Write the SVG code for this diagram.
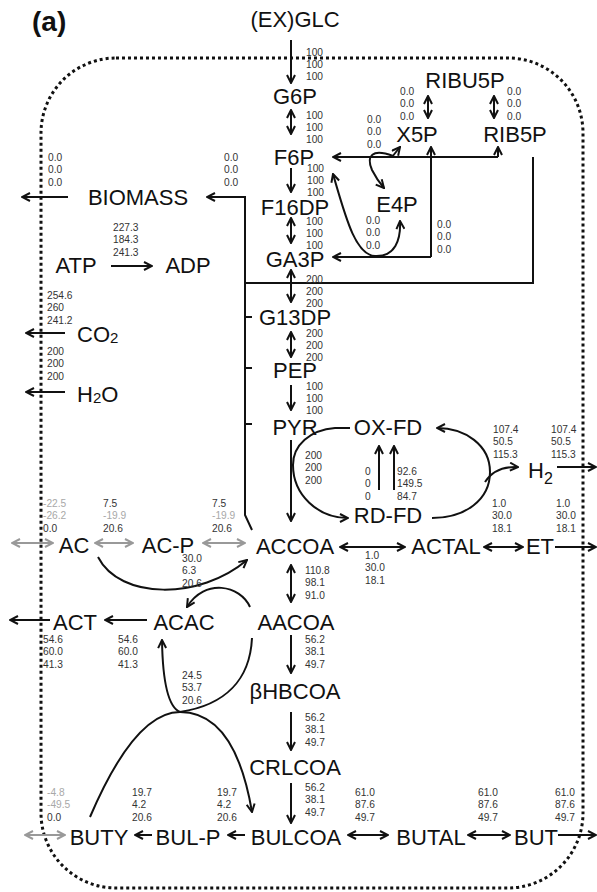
<svg xmlns="http://www.w3.org/2000/svg" width="597" height="892" viewBox="0 0 597 892">
<style>
.n{font-family:"Liberation Sans",Arial,sans-serif;font-size:22px;fill:#111;text-anchor:middle}
.v{font-family:"Liberation Sans",Arial,sans-serif;font-size:10.2px;fill:#333}
.g{fill:#a8a8a8}
.c{stroke:#111;stroke-width:2;fill:none}
.cg{stroke:#999;stroke-width:2;fill:none}
.a{marker-end:url(#ah)}
.d{marker-start:url(#ah);marker-end:url(#ah)}
.ga{marker-start:url(#ahg);marker-end:url(#ahg)}
</style>
<defs>
<marker id="ah" viewBox="0 0 10 10" refX="9" refY="5" markerWidth="10" markerHeight="10" markerUnits="userSpaceOnUse" orient="auto-start-reverse"><path d="M1,1 L9,5 L1,9" fill="none" stroke="#111" stroke-width="2"/></marker>
<marker id="ahg" viewBox="0 0 10 10" refX="9" refY="5" markerWidth="10" markerHeight="10" markerUnits="userSpaceOnUse" orient="auto-start-reverse"><path d="M1,1 L9,5 L1,9" fill="none" stroke="#999" stroke-width="2"/></marker>
</defs>
<rect width="597" height="892" fill="#fff"/>
<text x="32" y="31" font-family="Liberation Sans,Arial,sans-serif" font-size="28" font-weight="bold" fill="#111">(a)</text>
<rect x="41" y="58" width="542" height="830" rx="75" ry="75" fill="none" stroke="#111" stroke-width="3" stroke-dasharray="3 3"/>

<g id="connectors">
<path class="c a" d="M291,40 L291,83"/>
<path class="c d" d="M291,110 L291,134"/>
<path class="c a" d="M291,168 L291,192"/>
<path class="c d" d="M291,218 L291,243"/>
<path class="c d" d="M291,270 L291,302"/>
<path class="c d" d="M291,332 L291,357"/>
<path class="c a" d="M291,385 L291,410"/>
<path class="c a" d="M291,440 L291,521"/>
<path class="c d" d="M291,565 L291,602"/>
<path class="c a" d="M291,635 L291,673"/>
<path class="c a" d="M291,712 L291,750"/>
<path class="c a" d="M291,783 L291,823"/>
<path class="c a" d="M252,530 L245,515 L245,197 L207,197"/>
<path class="c" d="M533,157 L533,283 L245,283"/>
<path class="c" d="M245,317 L252,317 M245,368 L252,368 M245,424 L252,424"/>
<path class="c a" d="M68,197 L22,197"/>
<path class="c a" d="M111,266 L152,266"/>
<path class="c a" d="M65,333 L26,333"/>
<path class="c a" d="M65,392 L26,392"/>
<path class="c d" d="M428,96 L428,118"/>
<path class="c d" d="M494,96 L494,118"/>
<path class="c a" d="M498,157 L333,157"/>
<path class="c a" d="M498,157 L498,147"/>
<path class="c a" d="M392,157 L400,147"/>
<path class="c a" d="M393,156 C372,148 366,156 372,170 Q377,180 384,188"/>
<path class="c a" d="M431,257 L431,147"/>
<path class="c a" d="M431,257 L333,257"/>
<path class="c d" d="M333,174 C345,215 355,255 375,256 C395,257 401,240 400,221"/>
<path class="c a" d="M350,428 L335,428 C310,430 293,445 293,465 C293,495 318,518 348,518"/>
<path class="c a" d="M432,518 C465,518 490,500 490,472 C490,445 465,428 437,428"/>
<path class="c a" d="M485,482 Q495,466 518,467"/>
<path class="c a" d="M557,467 L596,467"/>
<path class="c a" d="M379,490 L379,446"/>
<path class="c a" d="M394,490 L394,446"/>
<path class="cg ga" d="M12,543 L53,543"/>
<path class="cg ga" d="M95,543 L133,543"/>
<path class="cg ga" d="M203,543 L245,543"/>
<path class="c d" d="M340,547 L405,547"/>
<path class="c d" d="M484,547 L523,547"/>
<path class="c a" d="M555,547 L596,547"/>
<path class="c a" d="M98,557 C120,600 200,600 247,560"/>
<path class="c a" d="M250,607 C240,585 205,578 187,607"/>
<path class="c a" d="M147,620 L105,620"/>
<path class="c a" d="M50,620 L10,620"/>
<path class="c a" d="M252,638 C250,680 225,705 180,712 Q163,705 162,640"/>
<path class="c a" d="M90,817 Q135,712 180,712 Q235,712 252,812"/>
<path class="c a" d="M245,835 L228,835"/>
<path class="c a" d="M152,835 L135,835"/>
<path class="cg ga" d="M25,835 L65,835"/>
<path class="c d" d="M348,835 L388,835"/>
<path class="c d" d="M468,835 L510,835"/>
<path class="c a" d="M558,835 L596,835"/>
</g>

<g id="flux-labels" class="v">
<text x="306" y="56"><tspan x="306">100</tspan><tspan x="306" dy="12.2">100</tspan><tspan x="306" dy="12.2">100</tspan></text>
<text x="306" y="119"><tspan x="306">100</tspan><tspan x="306" dy="12.2">100</tspan><tspan x="306" dy="12.2">100</tspan></text>
<text x="307" y="172"><tspan x="307">100</tspan><tspan x="307" dy="12.2">100</tspan><tspan x="307" dy="12.2">100</tspan></text>
<text x="306" y="225"><tspan x="306">100</tspan><tspan x="306" dy="12.2">100</tspan><tspan x="306" dy="12.2">100</tspan></text>
<text x="306" y="283"><tspan x="306">200</tspan><tspan x="306" dy="12">200</tspan><tspan x="306" dy="12">200</tspan></text>
<text x="306" y="337"><tspan x="306">200</tspan><tspan x="306" dy="12.2">200</tspan><tspan x="306" dy="12.2">200</tspan></text>
<text x="306" y="390"><tspan x="306">100</tspan><tspan x="306" dy="12.2">100</tspan><tspan x="306" dy="12.2">100</tspan></text>
<text x="305" y="459"><tspan x="305">200</tspan><tspan x="305" dy="12.3">200</tspan><tspan x="305" dy="12.3">200</tspan></text>
<text x="305" y="574"><tspan x="305">110.8</tspan><tspan x="305" dy="12.3">98.1</tspan><tspan x="305" dy="12.3">91.0</tspan></text>
<text x="305" y="643"><tspan x="305">56.2</tspan><tspan x="305" dy="12.3">38.1</tspan><tspan x="305" dy="12.3">49.7</tspan></text>
<text x="305" y="721"><tspan x="305">56.2</tspan><tspan x="305" dy="12.3">38.1</tspan><tspan x="305" dy="12.3">49.7</tspan></text>
<text x="305" y="791"><tspan x="305">56.2</tspan><tspan x="305" dy="12.3">38.1</tspan><tspan x="305" dy="12.3">49.7</tspan></text>
<text x="48" y="161"><tspan x="48">0.0</tspan><tspan x="48" dy="12.3">0.0</tspan><tspan x="48" dy="12.3">0.0</tspan></text>
<text x="224" y="161"><tspan x="224">0.0</tspan><tspan x="224" dy="12.3">0.0</tspan><tspan x="224" dy="12.3">0.0</tspan></text>
<text x="113" y="231"><tspan x="113">227.3</tspan><tspan x="113" dy="12.3">184.3</tspan><tspan x="113" dy="12.3">241.3</tspan></text>
<text x="47" y="299"><tspan x="47">254.6</tspan><tspan x="47" dy="12.3">260</tspan><tspan x="47" dy="12.3">241.2</tspan></text>
<text x="47" y="355"><tspan x="47">200</tspan><tspan x="47" dy="12.3">200</tspan><tspan x="47" dy="12.3">200</tspan></text>
<text x="400" y="95"><tspan x="400">0.0</tspan><tspan x="400" dy="12.3">0.0</tspan><tspan x="400" dy="12.3">0.0</tspan></text>
<text x="507" y="95"><tspan x="507">0.0</tspan><tspan x="507" dy="12.3">0.0</tspan><tspan x="507" dy="12.3">0.0</tspan></text>
<text x="367" y="123"><tspan x="367">0.0</tspan><tspan x="367" dy="12.3">0.0</tspan><tspan x="367" dy="12.3">0.0</tspan></text>
<text x="366" y="224"><tspan x="366">0.0</tspan><tspan x="366" dy="12.3">0.0</tspan><tspan x="366" dy="12.3">0.0</tspan></text>
<text x="437" y="228"><tspan x="437">0.0</tspan><tspan x="437" dy="12.3">0.0</tspan><tspan x="437" dy="12.3">0.0</tspan></text>
<text x="493" y="433"><tspan x="493">107.4</tspan><tspan x="493" dy="12.3">50.5</tspan><tspan x="493" dy="12.3">115.3</tspan></text>
<text x="551" y="433"><tspan x="551">107.4</tspan><tspan x="551" dy="12.3">50.5</tspan><tspan x="551" dy="12.3">115.3</tspan></text>
<text x="365" y="475"><tspan x="365">0</tspan><tspan x="365" dy="12.3">0</tspan><tspan x="365" dy="12.3">0</tspan></text>
<text x="397" y="475"><tspan x="397">92.6</tspan><tspan x="397" dy="12.3">149.5</tspan><tspan x="397" dy="12.3">84.7</tspan></text>
<text x="492" y="507"><tspan x="492">1.0</tspan><tspan x="492" dy="12.3">30.0</tspan><tspan x="492" dy="12.3">18.1</tspan></text>
<text x="556" y="507"><tspan x="556">1.0</tspan><tspan x="556" dy="12.3">30.0</tspan><tspan x="556" dy="12.3">18.1</tspan></text>
<text x="365" y="559"><tspan x="365">1.0</tspan><tspan x="365" dy="12.3">30.0</tspan><tspan x="365" dy="12.3">18.1</tspan></text>
<text x="43" y="507"><tspan x="43" class="g">-22.5</tspan><tspan x="43" dy="12.3" class="g">-26.2</tspan><tspan x="43" dy="12.3">0.0</tspan></text>
<text x="103" y="507"><tspan x="103">7.5</tspan><tspan x="103" dy="12.3" class="g">-19.9</tspan><tspan x="103" dy="12.3">20.6</tspan></text>
<text x="212" y="507"><tspan x="212">7.5</tspan><tspan x="212" dy="12.3" class="g">-19.9</tspan><tspan x="212" dy="12.3">20.6</tspan></text>
<text x="182" y="562"><tspan x="182">30.0</tspan><tspan x="182" dy="12.3">6.3</tspan><tspan x="182" dy="12.3">20.6</tspan></text>
<text x="43" y="643"><tspan x="43">54.6</tspan><tspan x="43" dy="12.3">60.0</tspan><tspan x="43" dy="12.3">41.3</tspan></text>
<text x="118" y="643"><tspan x="118">54.6</tspan><tspan x="118" dy="12.3">60.0</tspan><tspan x="118" dy="12.3">41.3</tspan></text>
<text x="182" y="679"><tspan x="182">24.5</tspan><tspan x="182" dy="12.3">53.7</tspan><tspan x="182" dy="12.3">20.6</tspan></text>
<text x="47" y="796"><tspan x="47" class="g">-4.8</tspan><tspan x="47" dy="12.3" class="g">-49.5</tspan><tspan x="47" dy="12.3">0.0</tspan></text>
<text x="132" y="796"><tspan x="132">19.7</tspan><tspan x="132" dy="12.3">4.2</tspan><tspan x="132" dy="12.3">20.6</tspan></text>
<text x="217" y="796"><tspan x="217">19.7</tspan><tspan x="217" dy="12.3">4.2</tspan><tspan x="217" dy="12.3">20.6</tspan></text>
<text x="355" y="796"><tspan x="355">61.0</tspan><tspan x="355" dy="12.3">87.6</tspan><tspan x="355" dy="12.3">49.7</tspan></text>
<text x="478" y="796"><tspan x="478">61.0</tspan><tspan x="478" dy="12.3">87.6</tspan><tspan x="478" dy="12.3">49.7</tspan></text>
<text x="555" y="796"><tspan x="555">61.0</tspan><tspan x="555" dy="12.3">87.6</tspan><tspan x="555" dy="12.3">49.7</tspan></text>
</g>

<g id="GLC"><text class="n" x="295" y="27" font-size="19.5">(EX)GLC</text></g>
<g id="G6P"><text class="n" x="295" y="104">G6P</text></g>
<g id="F6P"><text class="n" x="294" y="165">F6P</text></g>
<g id="F16DP"><text class="n" x="295" y="215">F16DP</text></g>
<g id="GA3P"><text class="n" x="295" y="267">GA3P</text></g>
<g id="G13DP"><text class="n" x="295" y="325">G13DP</text></g>
<g id="PEP"><text class="n" x="295" y="378">PEP</text></g>
<g id="PYR"><text class="n" x="295" y="435">PYR</text></g>
<g id="OX-FD"><text class="n" x="388" y="435">OX-FD</text></g>
<g id="RD-FD"><text class="n" x="388" y="523">RD-FD</text></g>
<g id="H2"><text class="n" x="528" y="478" style="text-anchor:start">H<tspan font-size="16" dy="6">2</tspan></text></g>
<g id="ACCOA"><text class="n" x="295" y="554">ACCOA</text></g>
<g id="ACTAL"><text class="n" x="446" y="554">ACTAL</text></g>
<g id="ET"><text class="n" x="540" y="554">ET</text></g>
<g id="AC"><text class="n" x="74" y="553">AC</text></g>
<g id="AC-P"><text class="n" x="168" y="553">AC-P</text></g>
<g id="ACT"><text class="n" x="75" y="630">ACT</text></g>
<g id="ACAC"><text class="n" x="184" y="630">ACAC</text></g>
<g id="AACOA"><text class="n" x="296" y="630">AACOA</text></g>
<g id="BHBCOA"><text class="n" x="295" y="699">βHBCOA</text></g>
<g id="CRLCOA"><text class="n" x="295" y="775">CRLCOA</text></g>
<g id="BULCOA"><text class="n" x="296" y="845">BULCOA</text></g>
<g id="BUTAL"><text class="n" x="431" y="845">BUTAL</text></g>
<g id="BUT"><text class="n" x="536" y="845">BUT</text></g>
<g id="BUL-P"><text class="n" x="188" y="845">BUL-P</text></g>
<g id="BUTY"><text class="n" x="99" y="845">BUTY</text></g>
<g id="BIOMASS"><text class="n" x="138" y="205">BIOMASS</text></g>
<g id="ATP"><text class="n" x="76" y="273">ATP</text></g>
<g id="ADP"><text class="n" x="188" y="273">ADP</text></g>
<g id="CO2"><text class="n" x="77" y="342" style="text-anchor:start">CO<tspan font-size="15" dy="1">2</tspan></text></g>
<g id="H2O"><text class="n" x="77" y="402" style="text-anchor:start">H<tspan font-size="15" dy="1">2</tspan><tspan dy="-1">O</tspan></text></g>
<g id="RIBU5P"><text class="n" x="465" y="88">RIBU5P</text></g>
<g id="X5P"><text class="n" x="417" y="142">X5P</text></g>
<g id="RIB5P"><text class="n" x="515" y="142">RIB5P</text></g>
<g id="E4P"><text class="n" x="397" y="212">E4P</text></g>
</svg>
